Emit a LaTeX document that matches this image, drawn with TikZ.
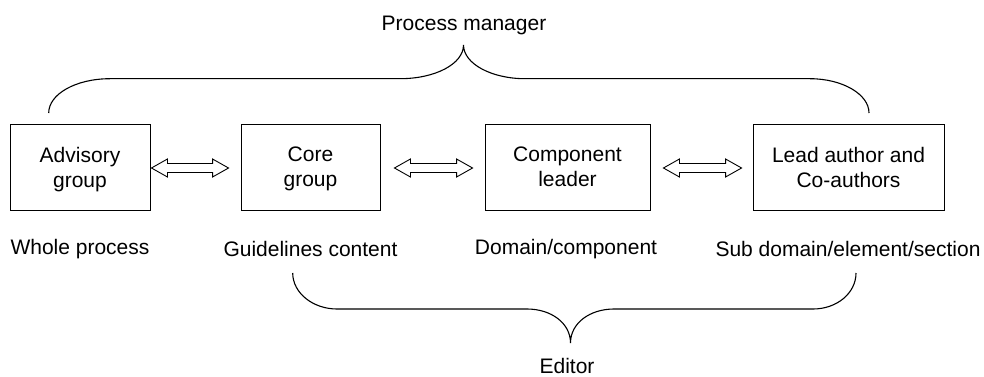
\documentclass[tikz,border=0pt]{standalone}
\usepackage{fontspec}
\setmainfont{Liberation Sans}
\usetikzlibrary{calc}

\tikzset{
  groupbox/.style={draw=black, line width=0.9pt, inner sep=0pt, align=center,
    minimum height=86pt, text depth=-2pt, font=\fontsize{21}{25}\selectfont},
  caption/.style={inner sep=0pt, font=\fontsize{21}{25}\selectfont},
  bracepath/.style={draw=black, line width=1.1pt},
  hollowarrow/.style={draw=black, line width=0.9pt, fill=white, line join=miter}
}

% hollow double-headed arrow between two points (tip to tip)
\newcommand\twowayarrow[2]{%
  \path[hollowarrow] let \p1=(#1), \p2=(#2) in
    (\x1,\y1) -- (\x1+16pt,\y1+9pt) -- (\x1+16pt,\y1+4.5pt)
    -- (\x2-16pt,\y2+4.5pt) -- (\x2-16pt,\y2+9pt) -- (\x2,\y2)
    -- (\x2-16pt,\y2-9pt) -- (\x2-16pt,\y2-4.5pt)
    -- (\x1+16pt,\y1-4.5pt) -- (\x1+16pt,\y1-9pt) -- cycle;}

\begin{document}
\begin{tikzpicture}[x=1pt, y=-1pt]
  \useasboundingbox (0,0) rectangle (984,377);

  % the four groups
  \node[groupbox, minimum width=140pt] (adv)  at (80,167)    {Advisory\\group};
  \node[groupbox, minimum width=139pt] (core) at (310.5,167) {Core\\group};
  \node[groupbox, minimum width=165pt] (comp) at (567.5,167) {Component\\leader};
  \node[groupbox, minimum width=191pt] (lead) at (848.5,167) {Lead author and\\Co-authors};

  % scope of each group
  \node[caption] (whole) at (80,249)    {Whole process};
  \node[caption] (guide) at (310.5,249) {Guidelines content};
  \node[caption] (dom)   at (566,249)   {Domain/component};
  \node[caption] (sub)   at (848,249)   {Sub domain/element/section};

  % two-way exchanges between neighbouring groups
  \coordinate (a1) at ($(adv.east)+(1,1)$);
  \coordinate (b1) at ($(core.west)+(-12,1)$);
  \coordinate (a2) at ($(core.east)+(14,1)$);
  \coordinate (b2) at ($(comp.west)+(-12,1)$);
  \coordinate (a3) at ($(comp.east)+(13,1)$);
  \coordinate (b3) at ($(lead.west)+(-11,1)$);
  \twowayarrow{a1}{b1}
  \twowayarrow{a2}{b2}
  \twowayarrow{a3}{b3}

  % brace over all groups
  \coordinate (pmL) at (48.7,113);
  \coordinate (pmR) at (869,113);
  \coordinate (pmT) at (463.5,45);
  \path[bracepath]
    (pmL) .. controls (48.7,94) and (76,78.7) .. (110,78.7)
    -- (400,78.7) .. controls (435,78.7) and (463.5,64) .. (pmT)
    .. controls (463.5,64) and (492,78.7) .. (525,78.7)
    -- (810,78.7) .. controls (842,78.7) and (869,94) .. (pmR);
  \node[caption] (pm) at (464,25) {Process manager};

  % brace under the last three groups
  \coordinate (edL) at (292.7,273);
  \coordinate (edR) at (856,273);
  \coordinate (edT) at (570.5,343);
  \path[bracepath]
    (edL) .. controls (292.7,293) and (313,309) .. (337,309)
    -- (527,309) .. controls (551,309) and (570.5,323) .. (edT)
    .. controls (570.5,323) and (590,309) .. (614,309)
    -- (813,309) .. controls (837,309) and (856,293) .. (edR);
  \node[caption] (ed) at (567,366) {Editor};
\end{tikzpicture}
\end{document}
